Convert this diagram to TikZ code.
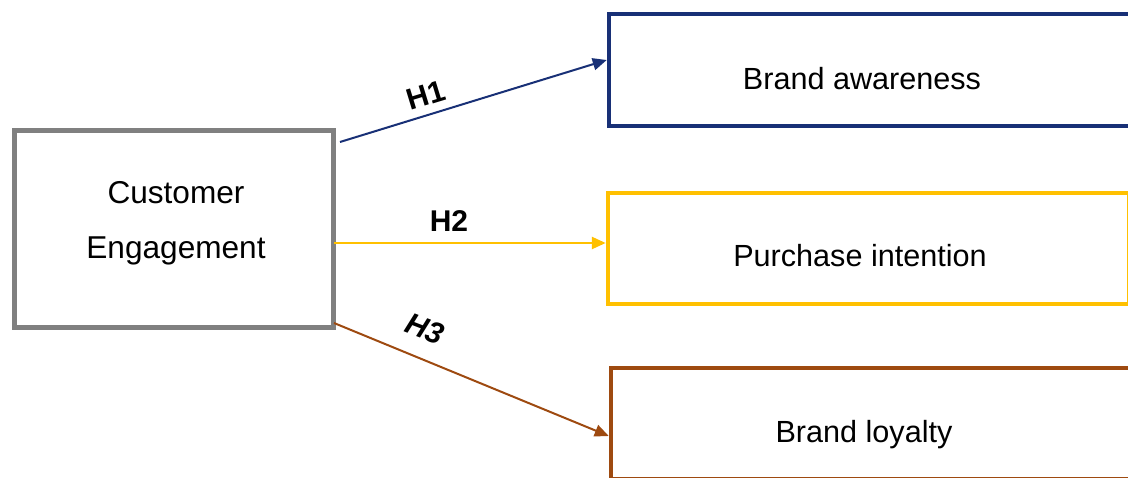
\documentclass[tikz,border=0pt]{standalone}
\usepackage{fontspec}
\setmainfont{Liberation Sans}
\usetikzlibrary{arrows.meta}

\definecolor{navyline}{RGB}{24,48,118}
\definecolor{goldline}{RGB}{255,192,0}
\definecolor{brownline}{RGB}{158,74,16}
\definecolor{greyline}{RGB}{128,128,128}

\tikzset{
  box/.style={draw, rectangle, inner sep=0pt, fill=white},
  boxtext/.style={inner sep=0pt, anchor=base, font=\fontsize{30.6}{36}\selectfont},
  hyp/.style={inner sep=0pt, font=\fontsize{30}{36}\selectfont\bfseries},
  link/.style={-{Triangle[length=14pt,width=12pt]}, line width=2pt},
}

\begin{document}
\begin{tikzpicture}[x=1pt,y=-1pt]
  \useasboundingbox (0,0) rectangle (1128,477);
  \clip (0,0) rectangle (1128,477);

  % source construct
  \node[box, draw=greyline, line width=5pt, minimum width=319pt, minimum height=197pt]
    (ce) at (174,229) {};
  \node[inner sep=0pt, align=center, font=\fontsize{31.6}{55}\selectfont]
    (cetext) at (176,223) {Customer\\Engagement};

  % outcome constructs
  \node[box, draw=navyline, line width=4.5pt, minimum width=522pt, minimum height=112pt]
    (aw) at (870,70) {};
  \node[boxtext] (awtext) at (862,89) {Brand awareness};

  \node[box, draw=goldline, line width=4.5pt, minimum width=521pt, minimum height=111pt]
    (pi) at (868.5,248.5) {};
  \node[boxtext] (pitext) at (860,266) {Purchase intention};

  \node[box, draw=brownline, line width=4.5pt, minimum width=524pt, minimum height=111pt]
    (bl) at (873,423.5) {};
  \node[boxtext] (bltext) at (864,442) {Brand loyalty};

  % hypothesised paths
  \coordinate (s1) at (340,142);
  \coordinate (s2) at (334,243);
  \coordinate (s3) at (334,323);
  \draw[link, navyline]  (s1) -- (aw.west |- 0,60);
  \draw[link, goldline, line width=2.5pt]  (s2) -- (pi.west |- 0,243);
  \draw[link, brownline] (s3) -- (bl.west |- 0,436);

  \node[hyp, rotate=17]  (h1) at (426,95)  {H1};
  \node[hyp]             (h2) at (449,221) {H2};
  \node[hyp, rotate=-21, font=\fontsize{30}{36}\selectfont\bfseries\itshape] (h3) at (425,329) {H3};
\end{tikzpicture}
\end{document}
